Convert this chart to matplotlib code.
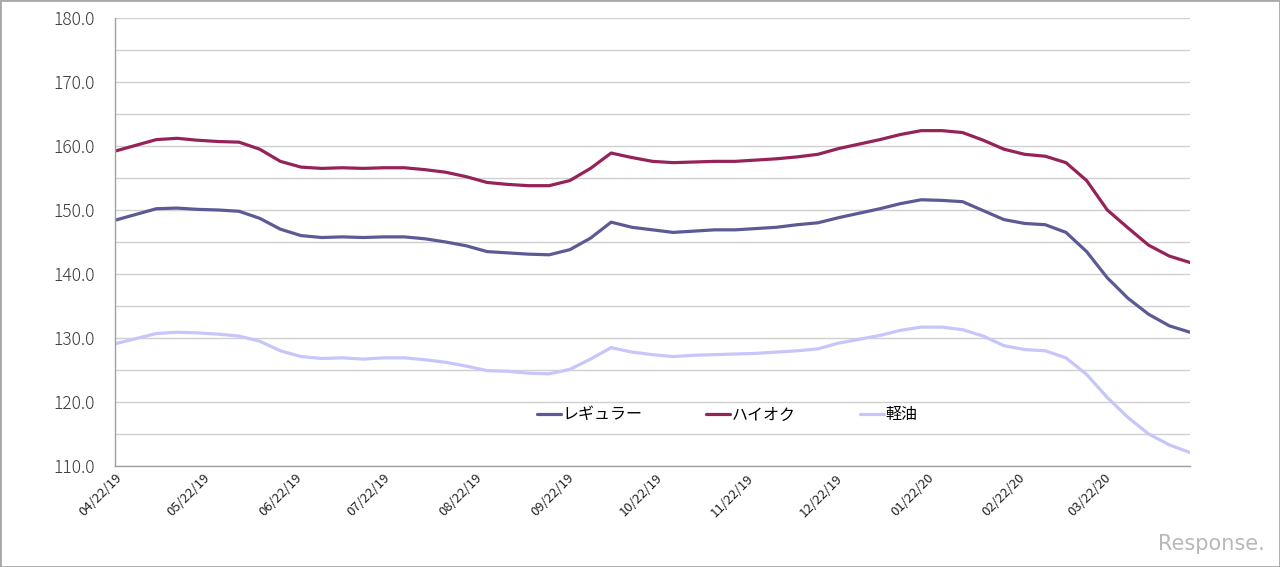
#!/usr/bin/env python3
"""Weekly gasoline / diesel retail price chart (Apr 2019 - Apr 2020)."""

import datetime as dt
import matplotlib
matplotlib.use('Agg')
import matplotlib.pyplot as plt
import matplotlib.dates as mdates
from matplotlib.patches import Rectangle

plt.rcParams['font.family'] = ['Noto Sans CJK JP', 'DejaVu Sans']

# weekly survey dates (Mondays)
start = dt.date(2019, 4, 22)
weeks = [start + dt.timedelta(days=7 * i) for i in range(53)]

regular = [148.4, 149.3, 150.2, 150.3, 150.1, 150.0, 149.8, 148.7, 147.0, 146.0,
           145.7, 145.8, 145.7, 145.8, 145.8, 145.5, 145.0, 144.4, 143.5, 143.3,
           143.1, 143.0, 143.8, 145.6, 148.1, 147.3, 146.9, 146.5, 146.7, 146.9,
           146.9, 147.1, 147.3, 147.7, 148.0, 148.8, 149.5, 150.2, 151.0, 151.6,
           151.5, 151.3, 149.9, 148.5, 147.9, 147.7, 146.5, 143.5, 139.4, 136.2,
           133.7, 131.9, 130.9]
high_octane = [159.2, 160.1, 161.0, 161.2, 160.9, 160.7, 160.6, 159.5, 157.6, 156.7,
               156.5, 156.6, 156.5, 156.6, 156.6, 156.3, 155.9, 155.2, 154.3, 154.0,
               153.8, 153.8, 154.6, 156.5, 158.9, 158.2, 157.6, 157.4, 157.5, 157.6,
               157.6, 157.8, 158.0, 158.3, 158.7, 159.6, 160.3, 161.0, 161.8, 162.4,
               162.4, 162.1, 160.9, 159.5, 158.7, 158.4, 157.4, 154.6, 150.0, 147.2,
               144.5, 142.8, 141.8]
diesel = [129.1, 129.9, 130.7, 130.9, 130.8, 130.6, 130.3, 129.5, 128.0, 127.1,
          126.8, 126.9, 126.7, 126.9, 126.9, 126.6, 126.2, 125.6, 124.9, 124.8,
          124.5, 124.4, 125.1, 126.7, 128.5, 127.8, 127.4, 127.1, 127.3, 127.4,
          127.5, 127.6, 127.8, 128.0, 128.3, 129.2, 129.8, 130.4, 131.2, 131.7,
          131.7, 131.3, 130.3, 128.8, 128.2, 128.0, 126.9, 124.3, 120.7, 117.6,
          115.0, 113.3, 112.1]

labels = ['レギュラー', 'ハイオク', '軽油']
colors = ['#5c5a94', '#952359', '#c6c6fb']

tick_dates = [dt.date(2019 + (3 + m) // 12, (3 + m) % 12 + 1, 22) for m in range(12)]

fig = plt.figure(figsize=(12.8, 5.67), dpi=100)
ax = fig.add_axes([115 / 1280, 1 - 466 / 567, 1075 / 1280, 448 / 567])

for series, lab, col in zip([regular, high_octane, diesel], labels, colors):
    ax.plot(weeks, series, color=col, linewidth=2.3, label=lab,
            solid_joinstyle='round', solid_capstyle='round')

ax.set_ylim(110, 180)
ax.set_yticks(range(110, 181, 10))
ax.set_yticks(range(115, 180, 10), minor=True)
ax.yaxis.set_major_formatter(matplotlib.ticker.FormatStrFormatter('%.1f'))
ax.set_xlim(weeks[0], weeks[-1])
ax.set_xticks(tick_dates)
ax.xaxis.set_major_formatter(mdates.DateFormatter('%m/%d/%y'))

ax.grid(axis='y', which='both', color='#d0d0d0', linewidth=1.0)
ax.set_axisbelow(True)
for side in ['top', 'right']:
    ax.spines[side].set_visible(False)
for side in ['left', 'bottom']:
    ax.spines[side].set_color('#a0a0a0')
    ax.spines[side].set_linewidth(1.0)

ax.tick_params(axis='y', which='both', length=0, pad=14.5, labelsize=12.5, labelcolor='#3a3a3a')
ax.tick_params(axis='x', length=0, pad=4, labelsize=9.5, labelcolor='#222222')
for t in ax.get_yticklabels():
    t.set_fontweight('light')
for t in ax.get_xticklabels():
    t.set_rotation(45)
    t.set_ha('right')
    t.set_rotation_mode('anchor')

fig.legend(loc='center', bbox_to_anchor=(0.568, 1 - 415 / 567), ncol=3,
           frameon=False, fontsize=11.5, handlelength=1.5, handletextpad=0.1,
           columnspacing=4.0)

fig.text(0.988, 0.04, 'Response.', ha='right', va='center', fontsize=15,
         color='#b8b8b8', family='DejaVu Sans')

fig.patches.append(Rectangle((0, 0), 1, 1, transform=fig.transFigure, fill=False,
                             edgecolor='#a8a8a8', linewidth=2.0))

plt.savefig('out.png')
plt.close()
